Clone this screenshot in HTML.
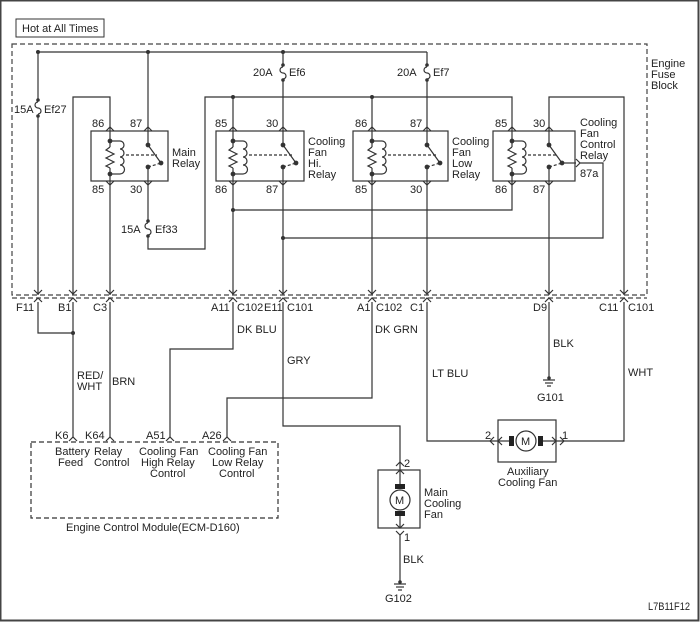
<!DOCTYPE html>
<html><head><meta charset="utf-8"><style>
html,body{margin:0;padding:0;background:#fff}
svg{display:block}
text{font-family:"Liberation Sans",sans-serif;font-size:11px;fill:#222}
</style></head><body>
<svg width="700" height="622" viewBox="0 0 700 622" xmlns="http://www.w3.org/2000/svg">
<defs>
<g id="coil" fill="none" stroke="#333" stroke-width="1.2">
<line x1="0" y1="131" x2="0" y2="147"/>
<polyline points="0,147 -4,150 4,154 -4,158 4,162 -4,166 0,168"/>
<line x1="0" y1="168" x2="0" y2="181"/>
<polyline points="0,141 10,141"/>
<path d="M10,141 a4,4 0 0 1 0,8 a4,4 0 0 1 0,8 a4,4 0 0 1 0,8 a4,4 0 0 1 0,9"/>
<polyline points="10,174 0,174"/>
<circle cx="0" cy="141" r="1.8" fill="#333"/><circle cx="0" cy="174" r="1.8" fill="#333"/>
<polyline points="-4,131 0,127 4,131"/><polyline points="-4,181 0,185 4,181"/>
</g>
<g id="sw" fill="none" stroke="#333" stroke-width="1.2">
<line x1="0" y1="131" x2="0" y2="145"/>
<line x1="0" y1="145" x2="13" y2="163"/>
<line x1="0" y1="167" x2="0" y2="181"/>
<line x1="0" y1="167" x2="13" y2="163" stroke-dasharray="3,2"/>
<circle cx="0" cy="145" r="1.8" fill="#333"/><circle cx="13" cy="163" r="1.8" fill="#333"/><circle cx="0" cy="167" r="1.8" fill="#333"/>
<polyline points="-4,131 0,127 4,131"/><polyline points="-4,181 0,185 4,181"/>
</g>
<g id="conn" fill="none" stroke="#333" stroke-width="1.2">
<polyline points="-4,290 0,294 4,290"/><polyline points="-4,302 0,298 4,302"/>
</g>
<path id="fuse" d="M0,0 a3,3 0 0 0 0,6 a3,3 0 0 1 0,6" fill="none" stroke="#333" stroke-width="1.2"/>
</defs>
<rect x="0.5" y="0.5" width="698" height="620" fill="none" stroke="#444" stroke-width="2"/>
<rect x="16" y="19" width="88" height="18" fill="none" stroke="#333"/>
<text x="22" y="32">Hot at All Times</text>
<rect x="12" y="44" width="635" height="251" fill="none" stroke="#444" stroke-dasharray="5,3" stroke-width="1.2"/>
<text x="651" y="67">Engine</text><text x="651" y="78">Fuse</text><text x="651" y="89">Block</text>
<g fill="none" stroke="#333" stroke-width="1.2">
<polyline points="38,52 427,52"/>
<line x1="38" y1="52" x2="38" y2="100"/><line x1="38" y1="116" x2="38" y2="295"/>
<line x1="148" y1="52" x2="148" y2="131"/>
<line x1="283" y1="52" x2="283" y2="65"/><line x1="283" y1="80" x2="283" y2="131"/>
<line x1="427" y1="52" x2="427" y2="65"/><line x1="427" y1="80" x2="427" y2="131"/>
<polyline points="73,295 73,97 110,97 110,131"/>
<line x1="110" y1="181" x2="110" y2="295"/>
<polyline points="148,181 148,221"/>
<polyline points="148,236 148,249 205,249 205,97 512,97 512,131"/>
<line x1="233" y1="97" x2="233" y2="131"/><line x1="372" y1="97" x2="372" y2="131"/>
<line x1="233" y1="181" x2="233" y2="295"/>
<line x1="283" y1="181" x2="283" y2="295"/>
<line x1="372" y1="181" x2="372" y2="295"/>
<line x1="427" y1="181" x2="427" y2="295"/>
<polyline points="233,210 512,210 512,181"/>
<polyline points="283,238 603,238 603,163 580,163"/>
<polyline points="576,159 580,163 576,167"/>
<polyline points="549,131 549,97 624,97 624,295"/>
<line x1="549" y1="181" x2="549" y2="295"/>
<rect x="91" y="131" width="77" height="50"/>
<rect x="216" y="131" width="88" height="50"/>
<rect x="353" y="131" width="95" height="50"/>
<rect x="493" y="131" width="82" height="50"/>
<g stroke-dasharray="3,2">
<line x1="126" y1="155" x2="157" y2="155"/>
<line x1="249" y1="155" x2="292" y2="155"/>
<line x1="388" y1="155" x2="436" y2="155"/>
<line x1="528" y1="155" x2="558" y2="155"/>
</g>
</g>
<line x1="562" y1="163" x2="576" y2="163" stroke="#333" stroke-width="1.2"/>
<g fill="#333">
<circle cx="38" cy="52" r="2"/><circle cx="148" cy="52" r="2"/><circle cx="283" cy="52" r="2"/>
<circle cx="233" cy="97" r="2"/><circle cx="372" cy="97" r="2"/>
<circle cx="233" cy="210" r="2"/><circle cx="283" cy="238" r="2"/>
<circle cx="38" cy="100" r="1.8"/><circle cx="38" cy="116" r="1.8"/>
<circle cx="283" cy="65" r="1.8"/><circle cx="283" cy="80" r="1.8"/>
<circle cx="427" cy="65" r="1.8"/><circle cx="427" cy="80" r="1.8"/>
<circle cx="148" cy="221" r="1.8"/><circle cx="148" cy="236" r="1.8"/>
</g>
<use href="#fuse" x="38" y="102"/><use href="#fuse" x="283" y="67"/><use href="#fuse" x="427" y="67"/><use href="#fuse" x="148" y="223"/>
<use href="#coil" x="110"/><use href="#sw" x="148"/>
<use href="#coil" x="233"/><use href="#sw" x="283"/>
<use href="#coil" x="372"/><use href="#sw" x="427"/>
<use href="#coil" x="512"/><use href="#sw" x="549"/>
<text x="14" y="113">15A</text><text x="44" y="113">Ef27</text>
<text x="253" y="76">20A</text><text x="289" y="76">Ef6</text>
<text x="397" y="76">20A</text><text x="433" y="76">Ef7</text>
<text x="121" y="233">15A</text><text x="155" y="233">Ef33</text>
<text x="92" y="127">86</text><text x="130" y="127">87</text><text x="92" y="193">85</text><text x="130" y="193">30</text>
<text x="172" y="156">Main</text><text x="172" y="167">Relay</text>
<text x="215" y="127">85</text><text x="266" y="127">30</text><text x="215" y="193">86</text><text x="266" y="193">87</text>
<text x="308" y="145">Cooling</text><text x="308" y="156">Fan</text><text x="308" y="167">Hi.</text><text x="308" y="178">Relay</text>
<text x="355" y="127">86</text><text x="410" y="127">87</text><text x="355" y="193">85</text><text x="410" y="193">30</text>
<text x="452" y="145">Cooling</text><text x="452" y="156">Fan</text><text x="452" y="167">Low</text><text x="452" y="178">Relay</text>
<text x="495" y="127">85</text><text x="533" y="127">30</text><text x="495" y="193">86</text><text x="533" y="193">87</text>
<text x="580" y="126">Cooling</text><text x="580" y="137">Fan</text><text x="580" y="148">Control</text><text x="580" y="159">Relay</text>
<text x="580" y="177">87a</text>
<line x1="12" y1="298" x2="647" y2="298" stroke="#444" stroke-dasharray="5,3" stroke-width="1.2"/>
<use href="#conn" x="38"/><use href="#conn" x="73"/><use href="#conn" x="110"/><use href="#conn" x="233"/><use href="#conn" x="283"/><use href="#conn" x="372"/><use href="#conn" x="427"/><use href="#conn" x="549"/><use href="#conn" x="624"/>
<text x="16" y="311">F11</text><text x="58" y="311">B1</text><text x="93" y="311">C3</text>
<text x="211" y="311">A11</text><text x="237" y="311">C102</text><text x="264" y="311">E11</text><text x="287" y="311">C101</text>
<text x="357" y="311">A1</text><text x="376" y="311">C102</text><text x="410" y="311">C1</text>
<text x="533" y="311">D9</text><text x="599" y="311">C11</text><text x="628" y="311">C101</text>
<g fill="none" stroke="#333" stroke-width="1.2">
<polyline points="38,302 38,333 73,333"/>
<line x1="73" y1="302" x2="73" y2="437"/>
<line x1="110" y1="302" x2="110" y2="437"/>
<polyline points="233,302 233,349 170,349 170,437"/>
<polyline points="372,302 372,398 227,398 227,437"/>
<polyline points="283,302 283,426 400,426 400,470"/>
<polyline points="427,302 427,441 498,441"/>
<polyline points="549,302 549,378"/>
<polyline points="624,302 624,441 556,441"/>
<polyline points="69,441 73,437 77,441"/><polyline points="106,441 110,437 114,441"/><polyline points="166,441 170,437 174,441"/><polyline points="223,441 227,437 231,441"/>
<rect x="31" y="442" width="247" height="76" stroke-dasharray="5,3"/>
<rect x="378" y="470" width="42" height="58"/>
<line x1="400" y1="470" x2="400" y2="487"/><line x1="400" y1="513" x2="400" y2="528"/>
<polyline points="396,474 400,470 404,474"/><polyline points="396,524 400,528 404,524"/>
<polyline points="396,531 400,535 404,531"/><polyline points="396,466 400,462 404,466"/>
<line x1="400" y1="535" x2="400" y2="582"/>
<circle cx="400" cy="500" r="10" fill="#fff"/>
<rect x="498" y="420" width="58" height="42"/>
<line x1="498" y1="441" x2="513" y2="441"/><line x1="539" y1="441" x2="556" y2="441"/>
<polyline points="502,437 498,441 502,445"/><polyline points="552,437 556,441 552,445"/>
<polyline points="494,437 490,441 494,445"/><polyline points="560,437 564,441 560,445"/>
<circle cx="526" cy="441" r="10" fill="#fff"/>
<line x1="543" y1="380" x2="555" y2="380"/><line x1="545" y1="383" x2="553" y2="383"/><line x1="547" y1="386" x2="551" y2="386"/>
<line x1="394" y1="584" x2="406" y2="584"/><line x1="396" y1="587" x2="404" y2="587"/><line x1="398" y1="590" x2="402" y2="590"/>
</g>
<rect x="395" y="484" width="10" height="5" fill="#222"/><rect x="395" y="511" width="10" height="5" fill="#222"/>
<rect x="509" y="436" width="5" height="10" fill="#222"/><rect x="538" y="436" width="5" height="10" fill="#222"/>
<circle cx="549" cy="378" r="1.8" fill="#333"/><circle cx="400" cy="582" r="1.8" fill="#333"/><circle cx="73" cy="333" r="2" fill="#333"/>
<text x="395" y="504" font-size="10">M</text><text x="521" y="445" font-size="10">M</text>
<text x="237" y="333">DK BLU</text><text x="375" y="333">DK GRN</text>
<text x="287" y="364">GRY</text><text x="77" y="379">RED/</text><text x="77" y="390">WHT</text><text x="112" y="385">BRN</text>
<text x="432" y="377">LT BLU</text><text x="553" y="347">BLK</text><text x="537" y="401">G101</text>
<text x="628" y="376">WHT</text>
<text x="55" y="439">K6</text><text x="85" y="439">K64</text><text x="146" y="439">A51</text><text x="202" y="439">A26</text>
<text x="55" y="455">Battery</text><text x="58" y="466">Feed</text>
<text x="94" y="455">Relay</text><text x="94" y="466">Control</text>
<text x="139" y="455">Cooling Fan</text><text x="141" y="466">High Relay</text><text x="150" y="477">Control</text>
<text x="208" y="455">Cooling Fan</text><text x="212" y="466">Low Relay</text><text x="219" y="477">Control</text>
<text x="66" y="531">Engine Control Module(ECM-D160)</text>
<text x="404" y="467">2</text><text x="404" y="541">1</text>
<text x="424" y="496">Main</text><text x="424" y="507">Cooling</text><text x="424" y="518">Fan</text>
<text x="403" y="563">BLK</text><text x="385" y="602">G102</text>
<text x="485" y="439">2</text><text x="562" y="439">1</text>
<text x="507" y="475">Auxiliary</text><text x="498" y="486">Cooling Fan</text>
<text x="648" y="610" font-size="9" textLength="42" lengthAdjust="spacingAndGlyphs">L7B11F12</text>
</svg>
</body></html>
